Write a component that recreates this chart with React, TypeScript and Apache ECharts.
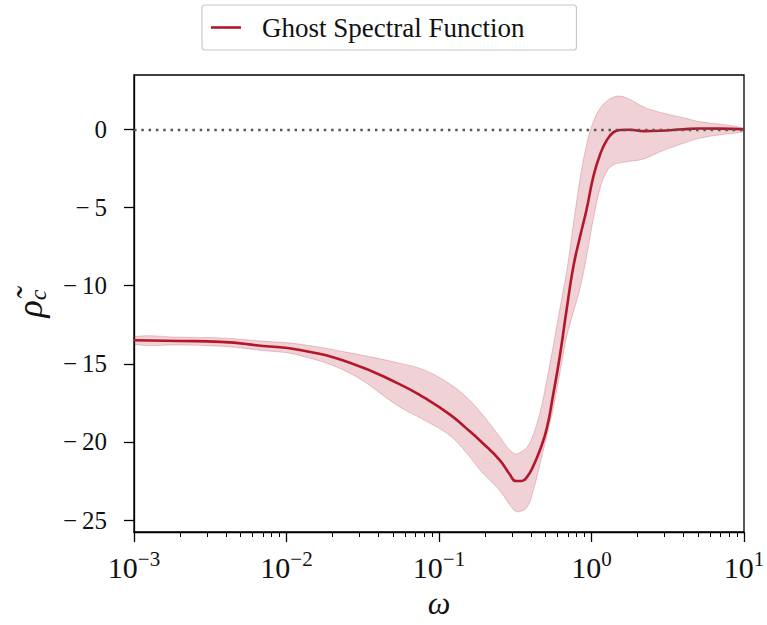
import React, { useEffect, useRef } from "react";
import * as echarts from "echarts";

// Frequency grid (log-spaced, denser around the dip and the zero crossing)
const omega = [
  0.001, 0.002, 0.0037, 0.007, 0.012, 0.026, 0.055, 0.08, 0.118, 0.15, 0.19,
  0.25, 0.29, 0.32, 0.35, 0.38, 0.41, 0.46, 0.51, 0.56, 0.62, 0.69, 0.76, 0.84,
  0.93, 1.03, 1.14, 1.26, 1.39, 1.54, 1.79, 2.2, 2.8, 4.0, 5.1, 7.0, 10,
];

// Central estimate of the ghost spectral function
const rhoMean = [
  -13.5, -13.54, -13.6, -13.86, -14.1, -14.93, -16.3, -17.17, -18.25, -19.1,
  -20.0, -21.16, -22.05, -22.5, -22.5, -22.2, -21.65, -20.5, -19.1, -17.0,
  -14.5, -11.4, -8.8, -6.9, -5.1, -3.0, -1.6, -0.7, -0.2, -0.05, -0.03, -0.12,
  -0.1, 0.0, 0.05, 0.04, 0.0,
];

// Upper edge of the uncertainty band
const rhoUpper = [
  -13.27, -13.3, -13.35, -13.55, -13.74, -14.3, -14.96, -15.4, -16.3, -17.1,
  -18.17, -19.67, -20.5, -20.77, -20.6, -20.3, -19.67, -18.1, -16.0, -13.9,
  -11.5, -9.0, -6.1, -3.23, -0.96, 0.5, 1.34, 1.8, 2.05, 2.12, 1.9, 1.43, 1.09,
  0.74, 0.49, 0.32, 0.06,
];

// Lower edge of the uncertainty band
const rhoLower = [
  -13.75, -13.8, -13.88, -14.15, -14.45, -15.6, -17.75, -18.6, -19.6, -20.65,
  -21.9, -23.1, -24.0, -24.45, -24.4, -24.15, -23.3, -21.4, -19.6, -17.9,
  -15.6, -13.2, -11.7, -10.2, -8.1, -5.7, -3.77, -2.7, -2.28, -2.15, -2.05,
  -1.9, -1.45, -0.9, -0.58, -0.35, -0.15,
];

const yTicks = [-25, -20, -15, -10, -5, 0];
const seriesName = "Ghost Spectral Function";

const SERIF = '"Liberation Serif", "DejaVu Serif", serif';
const RED = "#b2182b";
const INK = "#111";

const GRID = { left: 134, top: 75, width: 610, height: 457 };

const minus = (n: number) =>
  n < 0 ? "\u2212\u2009" + Math.abs(n) : String(n);

export default function App() {
  const ref = useRef<HTMLDivElement>(null);

  useEffect(() => {
    const chart = echarts.init(ref.current!, null, { renderer: "svg" });

    // minor ticks at 2..9 within each decade, in log10 units
    const minorLogTicks: number[] = [];
    for (let d = -3; d < 1; d++) {
      for (let m = 2; m <= 9; m++) minorLogTicks.push(d + Math.log10(m));
    }

    chart.setOption({
      animation: false,
      backgroundColor: "#fff",
      grid: [
        {
          ...GRID,
          show: true,
          borderColor: "#000",
          borderWidth: 1.3,
          backgroundColor: "transparent",
          containLabel: false,
          outerBoundsMode: "none",
        },
        {
          ...GRID,
          show: false,
          containLabel: false,
          outerBoundsMode: "none",
        },
      ],
      legend: {
        show: true,
        data: [{ name: seriesName, icon: "rect" }],
        left: 202,
        top: 5,
        itemWidth: 30,
        itemHeight: 2.6,
        padding: [9, 52, 9, 9],
        borderColor: "#c8c8c8",
        borderWidth: 1.2,
        borderRadius: 3,
        backgroundColor: "#fff",
        selectedMode: false,
        textStyle: {
          fontFamily: SERIF,
          fontSize: 27,
          color: INK,
          padding: [0, 0, 0, 16],
        },
      },
      xAxis: [
        {
          type: "log",
          logBase: 10,
          gridIndex: 0,
          min: 0.001,
          max: 10,
          axisLine: {
            show: true,
            onZero: false,
            lineStyle: { color: "#000", width: 1.3 },
          },
          axisTick: {
            show: true,
            inside: false,
            length: 10,
            lineStyle: { color: "#000", width: 1.3 },
          },
          minorTick: { show: false },
          splitLine: { show: false },
          axisLabel: {
            show: true,
            margin: 16,
            showMinLabel: true,
            showMaxLabel: true,
            formatter: (v: number) => {
              const e = Math.round(Math.log10(v));
              const sup = e < 0 ? "\u2212" + Math.abs(e) : String(e);
              return `{b|10}{s|${sup}}`;
            },
            rich: {
              b: {
                fontFamily: SERIF,
                fontSize: 30,
                color: INK,
                lineHeight: 34,
                verticalAlign: "bottom",
              },
              s: {
                fontFamily: SERIF,
                fontSize: 21,
                color: INK,
                lineHeight: 22,
                verticalAlign: "top",
              },
            },
          },
          name: "ω",
          nameLocation: "middle",
          nameGap: 55,
          nameTextStyle: {
            fontFamily: SERIF,
            fontStyle: "italic",
            fontSize: 32,
            color: INK,
          },
        },
        {
          type: "value",
          gridIndex: 1,
          min: -3,
          max: 1,
          position: "bottom",
          axisLine: { show: false, onZero: false },
          axisTick: {
            show: true,
            inside: false,
            length: 5,
            customValues: minorLogTicks,
            lineStyle: { color: "#000", width: 1 },
          },
          axisLabel: { show: false },
          splitLine: { show: false },
        },
      ],
      yAxis: [
        {
          type: "value",
          gridIndex: 0,
          min: -25.76,
          max: 3.47,
          axisLine: {
            show: true,
            onZero: false,
            lineStyle: { color: "#000", width: 1.3 },
          },
          axisTick: {
            show: true,
            inside: false,
            length: 10,
            customValues: yTicks,
            lineStyle: { color: "#000", width: 1.3 },
          },
          axisLabel: {
            show: true,
            customValues: yTicks,
            margin: 27,
            formatter: (v: number) => minus(v),
            fontFamily: SERIF,
            fontSize: 25,
            color: INK,
          },
          splitLine: { show: false },
          name: "{r|ρ̃}{c|c}",
          nameLocation: "middle",
          nameRotate: 90,
          nameGap: 84,
          nameTextStyle: {
            rich: {
              r: {
                fontFamily: SERIF,
                fontStyle: "italic",
                fontSize: 36,
                color: INK,
                lineHeight: 38,
                verticalAlign: "top",
              },
              c: {
                fontFamily: SERIF,
                fontStyle: "italic",
                fontSize: 24,
                color: INK,
                lineHeight: 20,
                verticalAlign: "bottom",
              },
            },
          },
        },
        { type: "value", gridIndex: 1, show: false, min: 0, max: 1 },
      ],
      series: [
        {
          // uncertainty band between the lower and upper estimates
          name: "band",
          type: "custom",
          xAxisIndex: 0,
          yAxisIndex: 0,
          data: omega.map((x, i) => [x, rhoLower[i], rhoUpper[i]]),
          encode: { x: 0, y: [1, 2] },
          clip: true,
          silent: true,
          z: 1,
          renderItem: (params: any, api: any) => {
            if (params.dataIndex !== 0) return null;
            const top = omega.map((x, i) => api.coord([x, rhoUpper[i]]));
            const bottom = omega
              .map((x, i) => api.coord([x, rhoLower[i]]))
              .reverse();
            return {
              type: "polygon",
              shape: { points: top.concat(bottom), smooth: 0.4 },
              style: {
                fill: "rgba(178,24,43,0.2)",
                stroke: "rgba(178,24,43,0.22)",
                lineWidth: 1,
              },
            };
          },
        },
        {
          name: seriesName,
          type: "line",
          xAxisIndex: 0,
          yAxisIndex: 0,
          data: omega.map((x, i) => [x, rhoMean[i]]),
          symbol: "none",
          smooth: 0.5,
          lineStyle: { color: RED, width: 2.6 },
          itemStyle: { color: RED },
          z: 3,
          markLine: {
            silent: true,
            symbol: ["none", "none"],
            label: { show: false },
            lineStyle: { type: [2.5, 4.8], color: "#555", width: 2.4 },
            data: [{ yAxis: 0 }],
          },
        },
      ],
    });

    return () => chart.dispose();
  }, []);

  return (
    <div
      ref={ref}
      style={{ position: "fixed", left: 0, top: 0, width: 767, height: 625 }}
    />
  );
}
